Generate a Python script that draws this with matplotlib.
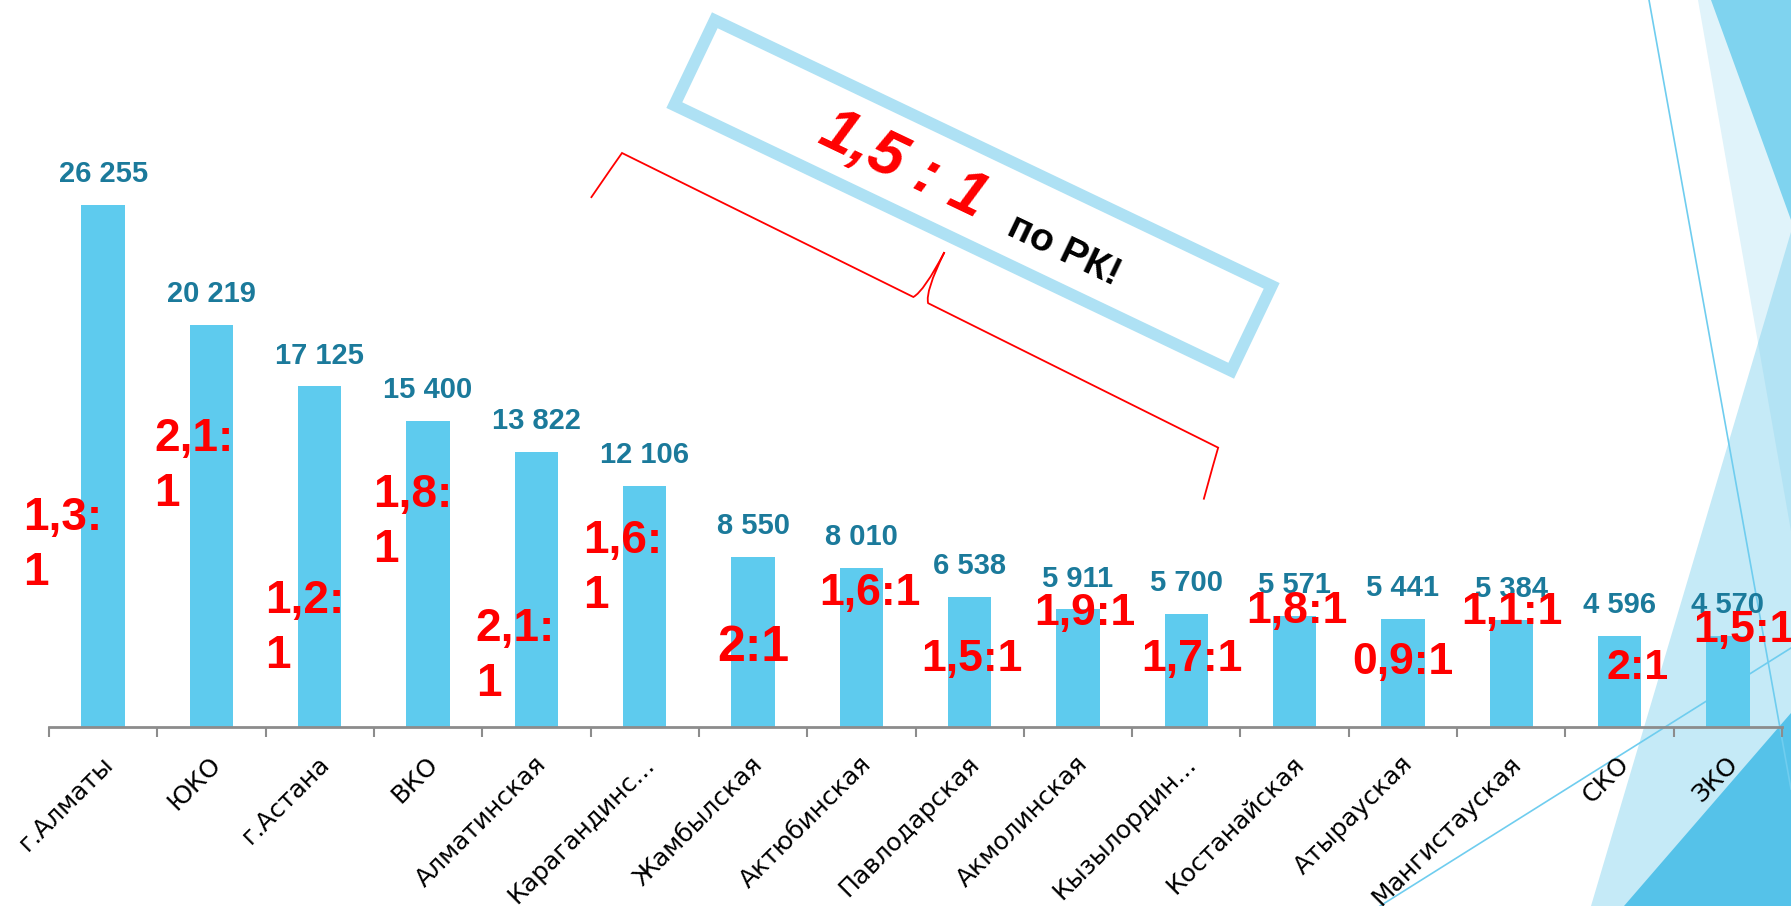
import numpy as np
import matplotlib
matplotlib.use("Agg")
import matplotlib.pyplot as plt
from matplotlib.patches import Polygon, PathPatch
from matplotlib.path import Path
import matplotlib.transforms as mtransforms

# --- data ---
regions = ["г.Алматы", "ЮКО", "г.Астана", "ВКО", "Алматинская", "Карагандинс...",
           "Жамбылская", "Актюбинская", "Павлодарская", "Акмолинская", "Кызылордин...",
           "Костанайская", "Атырауская", "Мангистауская", "СКО", "ЗКО"]
counts = [26255, 20219, 17125, 15400, 13822, 12106, 8550, 8010, 6538,
          5911, 5700, 5571, 5441, 5384, 4596, 4570]
ratios = ["1,3:\n1", "2,1:\n1", "1,2:\n1", "1,8:\n1", "2,1:\n1", "1,6:\n1",
          "2:1", "1,6:1", "1,5:1", "1,9:1", "1,7:1", "1,8:1", "0,9:1", "1,1:1",
          "2:1", "1,5:1"]
total_ratio = "1,5 : 1"
total_note = "по РК!"

# where the red ratio notes sit (x in category units, y in value units)
ratio_x = [-0.74, 0.47, 1.50, 2.49, 3.44, 4.43, 6.00, 7.08, 8.02, 9.06,
           10.05, 11.02, 12.00, 13.01, 14.17, 15.15]
ratio_y = [9130, 13100, 4940, 10280, 3560, 7980, 3960, 6720, 3390, 5690,
           3390, 5800, 3220, 5730, 2980, 4830]
ratio_size = [33, 33, 33, 33, 33, 33, 36, 32, 32, 32, 32, 32, 32, 32, 31, 32]

BAR = "#5ecbee"
TEAL = "#1b7a9b"
RED = "#ff0000"
GREY = "#8c8c8c"

W, H = 1791, 906
fig = plt.figure(figsize=(W / 100, H / 100), dpi=100)

# background layer in pixel coordinates (y down)
bg = fig.add_axes([0, 0, 1, 1], zorder=0)
bg.set_xlim(0, W)
bg.set_ylim(H, 0)
bg.axis("off")

bg.add_patch(Polygon([(1698, 0), (W, 0), (W, 531)], closed=True, color="#e0f3fa", lw=0))
bg.add_patch(Polygon([(1711, 0), (W, 0), (W, 220)], closed=True, color="#7fd3ef", lw=0))
bg.add_patch(Polygon([(1591, H), (W, 232), (W, H)], closed=True,
                     color=(117 / 255, 205 / 255, 236 / 255), alpha=0.42, lw=0))
bg.add_patch(Polygon([(1624, H), (W, 713), (W, H)], closed=True, color="#55c2e9", lw=0))
bg.plot([1649, W], [0, 789], color="#6fcdef", lw=1.2)
bg.plot([1380, W], [H, 648], color="#6fcdef", lw=1.2)

# rotated frame with the country-wide ratio
ang = np.deg2rad(25.5)
u = np.array([np.cos(ang), np.sin(ang)])
v = np.array([-np.sin(ang), np.cos(ang)])
c = np.array([973, 195.5])
L, Wd = 617, 94
corners = [c - u * L / 2 - v * Wd / 2, c + u * L / 2 - v * Wd / 2,
           c + u * L / 2 + v * Wd / 2, c - u * L / 2 + v * Wd / 2]
bg.add_patch(Polygon(corners, closed=True, fill=False, edgecolor="#aee1f4",
                     lw=8.6, joinstyle="miter"))
bg.text(903, 165, total_ratio, rotation=-25.5, rotation_mode="anchor",
        ha="center", va="center", color=RED, fontsize=45, fontweight="bold",
        fontstyle="italic", family="Liberation Sans")
bg.text(1064, 251, total_note, rotation=-25.5, rotation_mode="anchor",
        ha="center", va="center", color="black", fontsize=28, fontweight="bold",
        family="Liberation Sans")

# curly brace under the frame
ba = np.deg2rad(26.3)
bu = np.array([np.cos(ba), np.sin(ba)])
bn = np.array([np.sin(ba), -np.cos(ba)])
b0 = np.array([622, 153])
local = [(-8, -54), (-2, -12), (0, 0), (325, 0), (332, 10), (333, 54),
         (333, 10), (341, 1), (665, 0), (667, -12), (675, -53)]
codes = [Path.MOVETO, Path.CURVE3, Path.CURVE3, Path.LINETO, Path.CURVE3, Path.CURVE3,
         Path.CURVE3, Path.CURVE3, Path.LINETO, Path.CURVE3, Path.CURVE3]
pts = [b0 + s * bu + t * bn for s, t in local]
bg.add_patch(PathPatch(Path(pts, codes), fill=False, edgecolor=RED, lw=1.3))

# main chart
ax = fig.add_axes([49 / W, (H - 727) / H, (1782 - 49) / W, 727 / H], zorder=1)
ax.patch.set_alpha(0)
x = np.arange(len(regions))
ax.bar(x, counts, width=0.4, color=BAR)
ax.set_xlim(-0.5, len(regions) - 0.5)
ax.set_ylim(0, 727 / 0.0199)

for sp in ["top", "right", "left"]:
    ax.spines[sp].set_visible(False)
ax.spines["bottom"].set_color(GREY)
ax.spines["bottom"].set_linewidth(2)
ax.set_yticks([])

ax.set_xticks(x)
ax.set_xticklabels(regions, rotation=45, ha="right", va="center",
                   rotation_mode="anchor", fontsize=18)
ax.set_xticks(np.arange(len(regions) + 1) - 0.5, minor=True)
ax.tick_params(axis="x", which="major", length=0, pad=24)
ax.tick_params(axis="x", which="minor", length=7, width=1.5, color=GREY, direction="out")
off = mtransforms.ScaledTranslation(0.06, 0, fig.dpi_scale_trans)
for lab in ax.get_xticklabels():
    lab.set_transform(lab.get_transform() + off)

for xi, val in zip(x, counts):
    ax.annotate(f"{val:,}".replace(",", " "), (xi, val), xytext=(0, 12),
                textcoords="offset points", ha="center", va="bottom",
                color=TEAL, fontsize=21, fontweight="bold", family="Liberation Sans")

for txt, rx, ry, fs in zip(ratios, ratio_x, ratio_y, ratio_size):
    ha = "left" if "\n" in txt else "center"
    ax.text(rx, ry, txt, ha=ha, va="center", color=RED, fontsize=fs,
            fontweight="bold", family="Liberation Sans", linespacing=1.33,
            clip_on=False, zorder=5)

fig.savefig("out.png", dpi=100)
